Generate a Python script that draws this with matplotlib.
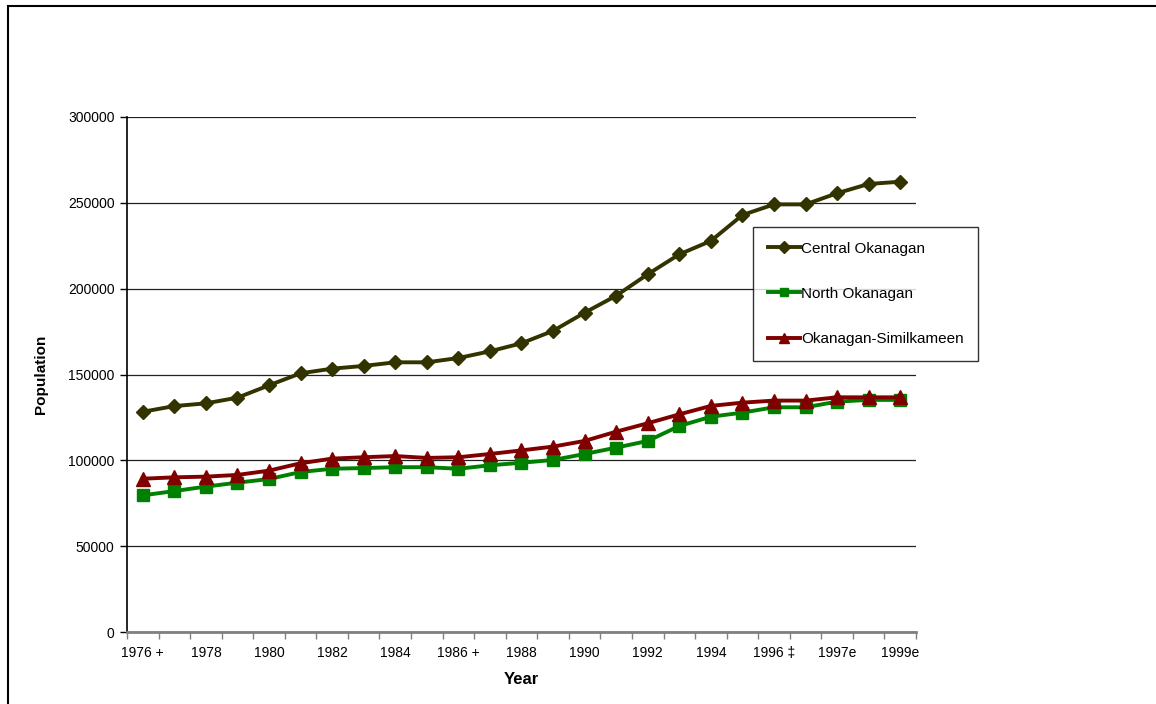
import numpy as np
import matplotlib
matplotlib.use("Agg")
import matplotlib.pyplot as plt
from matplotlib.patches import Rectangle

years = ["1976 +", "1977", "1978", "1979", "1980", "1981", "1982", "1983", "1984",
         "1985", "1986 +", "1987", "1988", "1989", "1990", "1991", "1992", "1993",
         "1994", "1995", "1996 \u2021", "1996", "1997e", "1998e", "1999e"]

central = [128300, 131600, 133200, 136500, 143700, 150700, 153400, 155000, 157100,
           157100, 159600, 163500, 168200, 175400, 186000, 195900, 208400, 220000,
           227800, 242900, 249100, 249100, 255600, 261000, 262300]
north = [79600, 82100, 84700, 87000, 89100, 93200, 95100, 95500, 96000,
         96000, 95100, 97100, 98600, 100200, 103700, 107400, 111300, 120000,
         125400, 127800, 130900, 130900, 134200, 135200, 135200]
similk = [89300, 90100, 90500, 91500, 94000, 98300, 101000, 101800, 102500,
          101400, 101800, 103700, 105800, 108000, 111300, 116700, 121600, 126800,
          131700, 133600, 134800, 134800, 136700, 136700, 136700]

plt.rcParams['font.family'] = ['Liberation Sans', 'DejaVu Sans']

fig = plt.figure(figsize=(11.56, 7.04), dpi=100)
ax = fig.add_axes([127/1156, 72/704, 789/1156, 515/704])

x = np.arange(len(years))
ax.plot(x, central, color='#333300', lw=2.8, marker='D', ms=7.5, label='Central Okanagan')
ax.plot(x, north, color='#008000', lw=2.8, marker='s', ms=8, label='North Okanagan')
ax.plot(x, similk, color='#800000', lw=2.8, marker='^', ms=9.5, label='Okanagan-Similkameen')

ax.set_xlim(-0.5, len(years) - 0.5)
ax.set_ylim(0, 300000)
ax.set_yticks(np.arange(0, 300001, 50000))
ax.yaxis.grid(True, color='#222222', lw=0.9)
ax.set_axisbelow(True)

# tick marks between categories, labels on every other category
ax.set_xticks(np.arange(-0.5, len(years)), minor=False)
ax.set_xticklabels([])
ax.set_xticks(x[::2], minor=True)
ax.set_xticklabels(years[::2], minor=True)
ax.tick_params(axis='x', which='major', length=5, width=1, color='#808080')
ax.tick_params(axis='x', which='minor', length=0, pad=10, labelsize=10)
ax.tick_params(axis='y', length=5, width=1, labelsize=10, pad=4)

for s in ['top', 'right']:
    ax.spines[s].set_visible(False)
ax.spines['bottom'].set_color('#808080')
ax.spines['bottom'].set_linewidth(2)
ax.spines['left'].set_linewidth(1.2)

ax.set_xlabel('Year', fontsize=12, fontweight='bold', labelpad=9)
ax.set_ylabel('Population', fontsize=11, fontweight='bold', labelpad=14)

leg = ax.legend(loc='upper left', bbox_to_anchor=(753/1156, (704-227)/704),
                bbox_transform=fig.transFigure, frameon=True, fancybox=False,
                fontsize=11, labelspacing=2.05, handlelength=2.1, handletextpad=0.1,
                borderpad=0.95, borderaxespad=0, markerscale=0.75)
leg.get_frame().set_edgecolor('black')
leg.get_frame().set_linewidth(1)

fig.patches.append(Rectangle((8/1156, -0.1), 1.2, (704-6)/704 + 0.1,
                             transform=fig.transFigure, fill=False,
                             edgecolor='black', lw=1.5))

fig.savefig('out.png', dpi=100)
